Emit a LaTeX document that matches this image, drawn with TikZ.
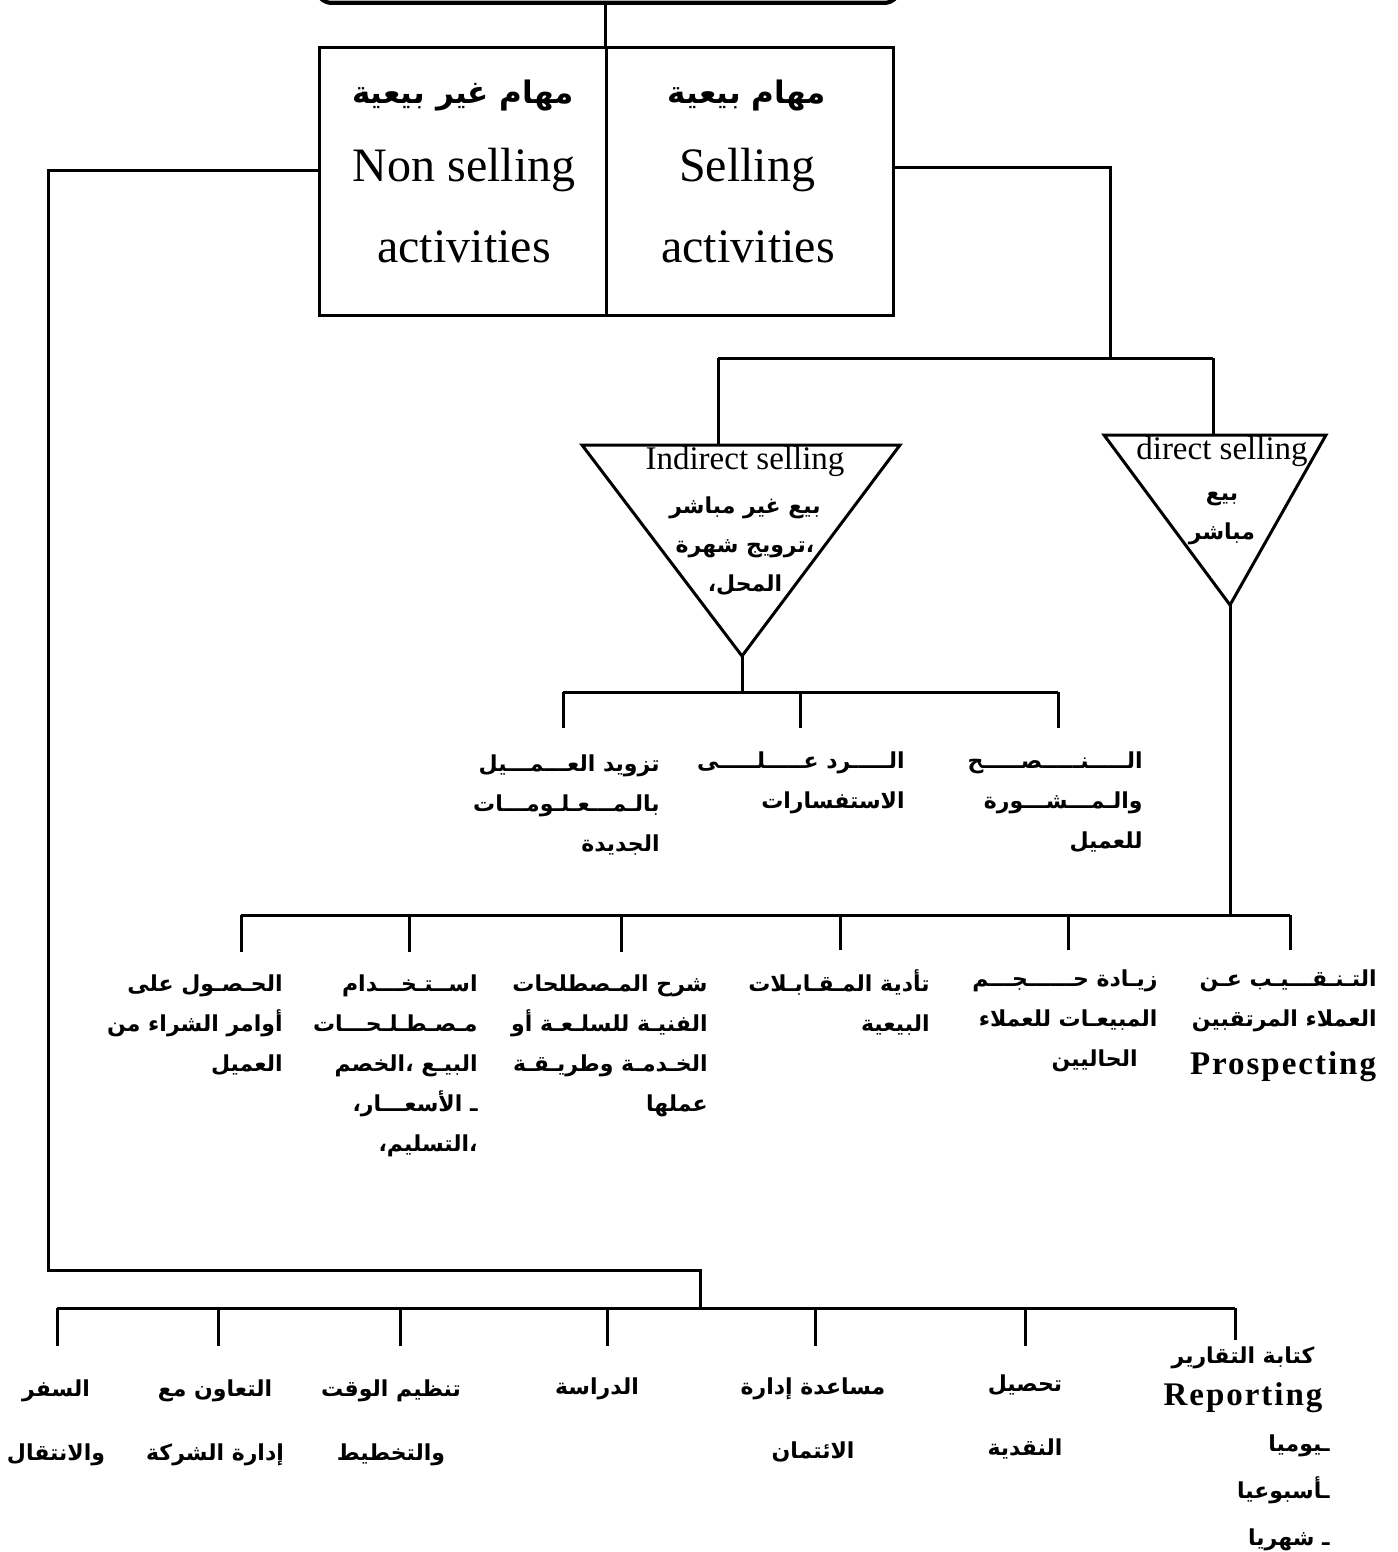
\documentclass[tikz,border=0pt]{standalone}
\usepackage{fontspec}
\setmainfont{Liberation Serif}
\newfontfamily\arabicfont[Script=Arabic]{DejaVu Sans}
\TeXXeTstate=1
\newcommand\arl[1]{\beginR #1\endR}
\begin{document}
\begin{tikzpicture}[x=0.5pt,y=-0.5pt,
  conn/.style={line width=1.5pt},
  cell/.style={draw,line width=1.5pt,minimum width=143.5pt,minimum height=134pt,inner sep=0pt,anchor=north west},
  tri/.style={line width=1.5pt,line join=miter},
  big/.style={font=\fontsize{24}{28}\selectfont,inner sep=0pt},
  hdr/.style={font=\arabicfont\bfseries\fontsize{15.5}{20}\selectfont,inner sep=0pt},
  mid/.style={font=\fontsize{16.5}{19}\selectfont,inner sep=0pt},
  ar/.style={font=\arabicfont\bfseries\fontsize{11}{20}\selectfont,align=right,inner sep=0pt,anchor=north east},
  arc/.style={font=\arabicfont\bfseries\fontsize{11}{19.5}\selectfont,align=center,inner sep=0pt},
  arb/.style={font=\arabicfont\bfseries\fontsize{11}{32}\selectfont,align=center,inner sep=0pt,anchor=north},
  ard/.style={font=\arabicfont\bfseries\fontsize{11}{23.5}\selectfont,align=right,inner sep=0pt,anchor=north east},
  enb/.style={font=\bfseries\fontsize{16.5}{20}\selectfont\addfontfeatures{LetterSpace=6},inner sep=0pt}
]
\useasboundingbox (0,0) rectangle (1397,1552);
\clip (0,0) rectangle (1397,1552);

% top box (cut off)
\node[draw,line width=2pt,fill=gray!45,rounded corners=8pt,minimum width=292pt,minimum height=40pt,anchor=south] (top) at (608,5) {};

% main box
\node[cell] (nonsell) at (318,46) {};
\node[cell] (sell) at (605,46) {};
\draw[conn] (top.south -| sell.north west) -- (sell.north west);

\node[hdr] (nsar) at (463,96) {\arl{مهام غير بيعية}};
\node[big] (nsen1) at (464,170) {Non selling};
\node[big] (nsen2) at (464,247) {activities};
\node[hdr] (sar) at (747,96) {\arl{مهام بيعية}};
\node[big] (sen1) at (747,170) {Selling};
\node[big] (sen2) at (748,247) {activities};

% left spine to non-selling tasks
\coordinate (lj) at (48,170);
\coordinate (lb) at (48,1270);
\coordinate (lc) at (700,1270);
\coordinate (lbus) at (700,1308);
\draw[conn] (nonsell.west |- lj) -- (lj) -- (lb) -- (lc) -- (lbus);

% right branch to selling tasks
\coordinate (rj) at (1110,167);
\coordinate (rjb) at (1110,358);
\coordinate (sb1) at (718,358);
\coordinate (sb2) at (1213,358);
\draw[conn] (sell.east |- rj) -- (rj) -- (rjb);
\draw[conn] (sb1) -- (sb2);

% indirect triangle
\coordinate (itl) at (582,445);
\coordinate (itr) at (900,445);
\coordinate (ib) at (742,656);
\draw[tri] (itl) -- (itr) -- (ib) -- cycle;
\draw[conn] (sb1) -- (sb1 |- itl);
\node[mid] (ien) at (745,462) {Indirect selling};
\node[arc,anchor=north] (iar) at (745,496) {\arl{بيع غير مباشر}\\\arl{،ترويج شهرة}\\\arl{المحل،}};

% direct triangle
\coordinate (dtl) at (1104,435);
\coordinate (dtr) at (1326,435);
\coordinate (db) at (1230,605);
\draw[tri] (dtl) -- (dtr) -- (db) -- cycle;
\draw[conn] (sb2) -- (sb2 |- dtl);
\node[mid] (den) at (1222,452) {direct selling};
\node[arc,anchor=north] (dar) at (1222,492) {\arl{بيع}\\\arl{مباشر}};

% indirect children
\coordinate (ibus) at (742,692);
\coordinate (ia) at (563,692);
\coordinate (ibb) at (800,692);
\coordinate (ic) at (1058,692);
\coordinate (iae) at (563,728);
\coordinate (ibe) at (800,728);
\coordinate (ice) at (1058,728);
\draw[conn] (ib) -- (ibus);
\draw[conn] (ia) -- (ic);
\draw[conn] (ia) -- (iae);
\draw[conn] (ibb) -- (ibe);
\draw[conn] (ic) -- (ice);

\node[ar] (a1) at (1143,751) {\arl{الـــــنـــــصـــــح}\\\arl{والـمـــشـــورة}\\\arl{للعميل}};
\node[ar] (a2) at (905,751) {\arl{الـــــرد عـــــلـــــى}\\\arl{الاستفسارات}};
\node[ar] (a3) at (660,754) {\arl{تزويد العـــمـــيل}\\\arl{بالـمـــعـلـومـــات}\\\arl{الجديدة}};

% direct children
\coordinate (dbus) at (1230,915);
\coordinate (d1) at (1290,915);
\coordinate (d2) at (1068,915);
\coordinate (d3) at (840,915);
\coordinate (d4) at (621,915);
\coordinate (d5) at (409,915);
\coordinate (d6) at (241,915);
\coordinate (d1e) at (1290,950);
\coordinate (d2e) at (1068,950);
\coordinate (d3e) at (840,950);
\coordinate (d4e) at (621,952);
\coordinate (d5e) at (409,952);
\coordinate (d6e) at (241,952);
\draw[conn] (db) -- (dbus);
\draw[conn] (d6) -- (d1);
\foreach \p in {1,...,6} {\draw[conn] (d\p) -- (d\p e);}

\node[ar] (b1) at (1377,969) {\arl{التـنـقـــيـب عـن}\\\arl{العملاء المرتقبين}};
\node[enb] (b1en) at (1283,1067) {Prospecting};
\node[ar] (b2) at (1158,969) {\arl{زيـادة حــــــجـــم}\\\arl{المبيعـات للعملاء}\\\arl{\hspace{10pt}الحاليين}};
\node[ar] (b3) at (930,969) {\arl{تأدية المـقـابـلات}\\\arl{البيعية}};
\node[ar] (b4) at (708,974) {\arl{شرح المـصطلحات}\\\arl{الفنيـة للسلـعـة أو}\\\arl{الخـدمـة وطريـقـة}\\\arl{عملها}};
\node[ar] (b5) at (478,974) {\arl{اســتـخـــدام}\\\arl{مـصـطـلـحـــات}\\\arl{البيـع ،الخصم}\\\arl{ـ الأسعـــار،}\\\arl{،التسليم،}};
\node[ar] (b6) at (283,974) {\arl{الحـصـول على}\\\arl{أوامر الشراء من}\\\arl{العميل}};

% non-selling children
\coordinate (n1) at (57,1308);
\coordinate (n2) at (218,1308);
\coordinate (n3) at (400,1308);
\coordinate (n4) at (607,1308);
\coordinate (n5) at (815,1308);
\coordinate (n6) at (1025,1308);
\coordinate (n7) at (1235,1308);
\coordinate (n1e) at (57,1346);
\coordinate (n2e) at (218,1346);
\coordinate (n3e) at (400,1346);
\coordinate (n4e) at (607,1346);
\coordinate (n5e) at (815,1346);
\coordinate (n6e) at (1025,1346);
\coordinate (n7e) at (1235,1340);
\draw[conn] (n1) -- (n7);
\foreach \p in {1,...,7} {\draw[conn] (n\p) -- (n\p e);}

\node[arb] (c1) at (56,1379) {\arl{السفر}\\\arl{والانتقال}};
\node[arb] (c2) at (215,1379) {\arl{التعاون مع}\\\arl{إدارة الشركة}};
\node[arb] (c3) at (391,1379) {\arl{تنظيم الوقت}\\\arl{والتخطيط}};
\node[arb] (c4) at (597,1377) {\arl{الدراسة}};
\node[arb] (c5) at (813,1377) {\arl{مساعدة إدارة}\\\arl{الائتمان}};
\node[arb] (c6) at (1025,1374) {\arl{تحصيل}\\\arl{النقدية}};
\node[arc] (c7) at (1243,1358) {\arl{كتابة التقارير}};
\node[enb] (c7en) at (1243,1398) {Reporting};
\node[ard] (c7l) at (1330,1434) {\arl{ـيوميا}\\\arl{ـأسبوعيا}\\\arl{ـ شهريا}};
\end{tikzpicture}
\end{document}
